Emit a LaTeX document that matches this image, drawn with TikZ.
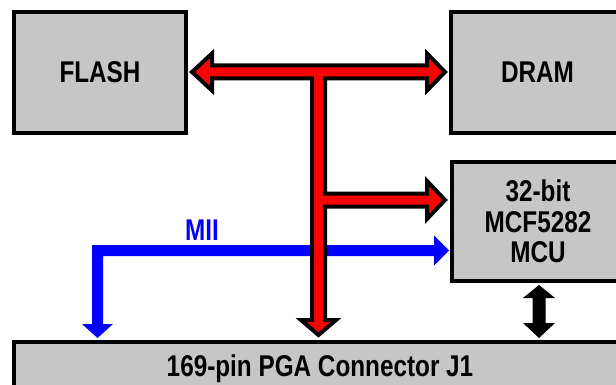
\documentclass[tikz,border=0pt]{standalone}
\usepackage{fontspec}
\newfontfamily\diagfont[FakeStretch=0.81]{Liberation Sans}
\usetikzlibrary{calc}
\definecolor{boxgray}{RGB}{198,198,198}
\definecolor{busred}{RGB}{255,0,0}
\definecolor{miiblue}{RGB}{0,0,255}
\begin{document}
\begin{tikzpicture}[x=1pt,y=-1pt,
  blockbox/.style={draw=black, line width=4pt, fill=boxgray, inner sep=0pt,
    font=\diagfont\bfseries\fontsize{30}{30.5}\selectfont, align=center},
  redbus/.style={draw=black, line width=4pt, fill=busred, line join=miter},
  bluebus/.style={fill=miiblue},
  ctrlbus/.style={fill=black},
  buslabel/.style={text=miiblue, inner sep=0pt, font=\diagfont\bfseries\fontsize{30}{30.5}\selectfont}]
\clip (0,0) rectangle (616,385);
\fill[white] (0,0) rectangle (616,385);
% blocks
\node[blockbox, minimum width=172pt, minimum height=121pt] (flash) at (100,72.5) {FLASH};
\node[blockbox, minimum width=173pt, minimum height=121pt] (dram) at (537.5,72.5) {DRAM};
\node[blockbox, minimum width=172pt, minimum height=119pt] (mcu) at (538,221.5) {32-bit\\MCF5282\\MCU};
\node[blockbox, minimum width=612pt, minimum height=53pt] (conn) at (320,368.5) {169-pin PGA Connector J1};
% MII bus (blue)
\coordinate (miiR) at ($(mcu.west)+(-1,29)$);
\coordinate (miiD) at (97.5,338);
\fill[bluebus] (92,245) -- (434,245) -- (434,235.5) -- (miiR) -- (434,265.5) -- (434,256)
  -- (103,256) -- (103,324) -- (113,324) -- (miiD) -- (82,324) -- (92,324) -- cycle;
\node[buslabel] (mii) at (202,230.5) {MII};
% red bus
\coordinate (tL) at ($(flash.east)+(4,-0.5)$);
\coordinate (tR) at ($(dram.west)+(-4,-0.5)$);
\coordinate (tM) at ($(mcu.west)+(-5,-21.5)$);
\coordinate (tD) at ($(conn.north)+(-1.5,-5)$);
\draw[redbus] (tL) -- (212,53.5) -- (212,65.5) -- (427,65.5) -- (427,53.5) -- (tR)
  -- (427,90.5) -- (427,78.5) -- (325,78.5) -- (325,193.5) -- (427,193.5) -- (427,181)
  -- (tM) -- (427,219) -- (427,206.5) -- (325,206.5) -- (325,320) -- (336,320)
  -- (tD) -- (301,320) -- (312,320) -- (312,78.5) -- (212,78.5) -- (212,90.5) -- cycle;
% MCU <-> connector (black)
\coordinate (cT) at ($(mcu.south)+(1,2)$);
\coordinate (cB) at ($(conn.north)+(219,-2)$);
\fill[ctrlbus] (cT) -- (555,298) -- (545.5,298) -- (545.5,323) -- (555,323) -- (cB)
  -- (523,323) -- (532.5,323) -- (532.5,298) -- (523,298) -- cycle;
\end{tikzpicture}
\end{document}
